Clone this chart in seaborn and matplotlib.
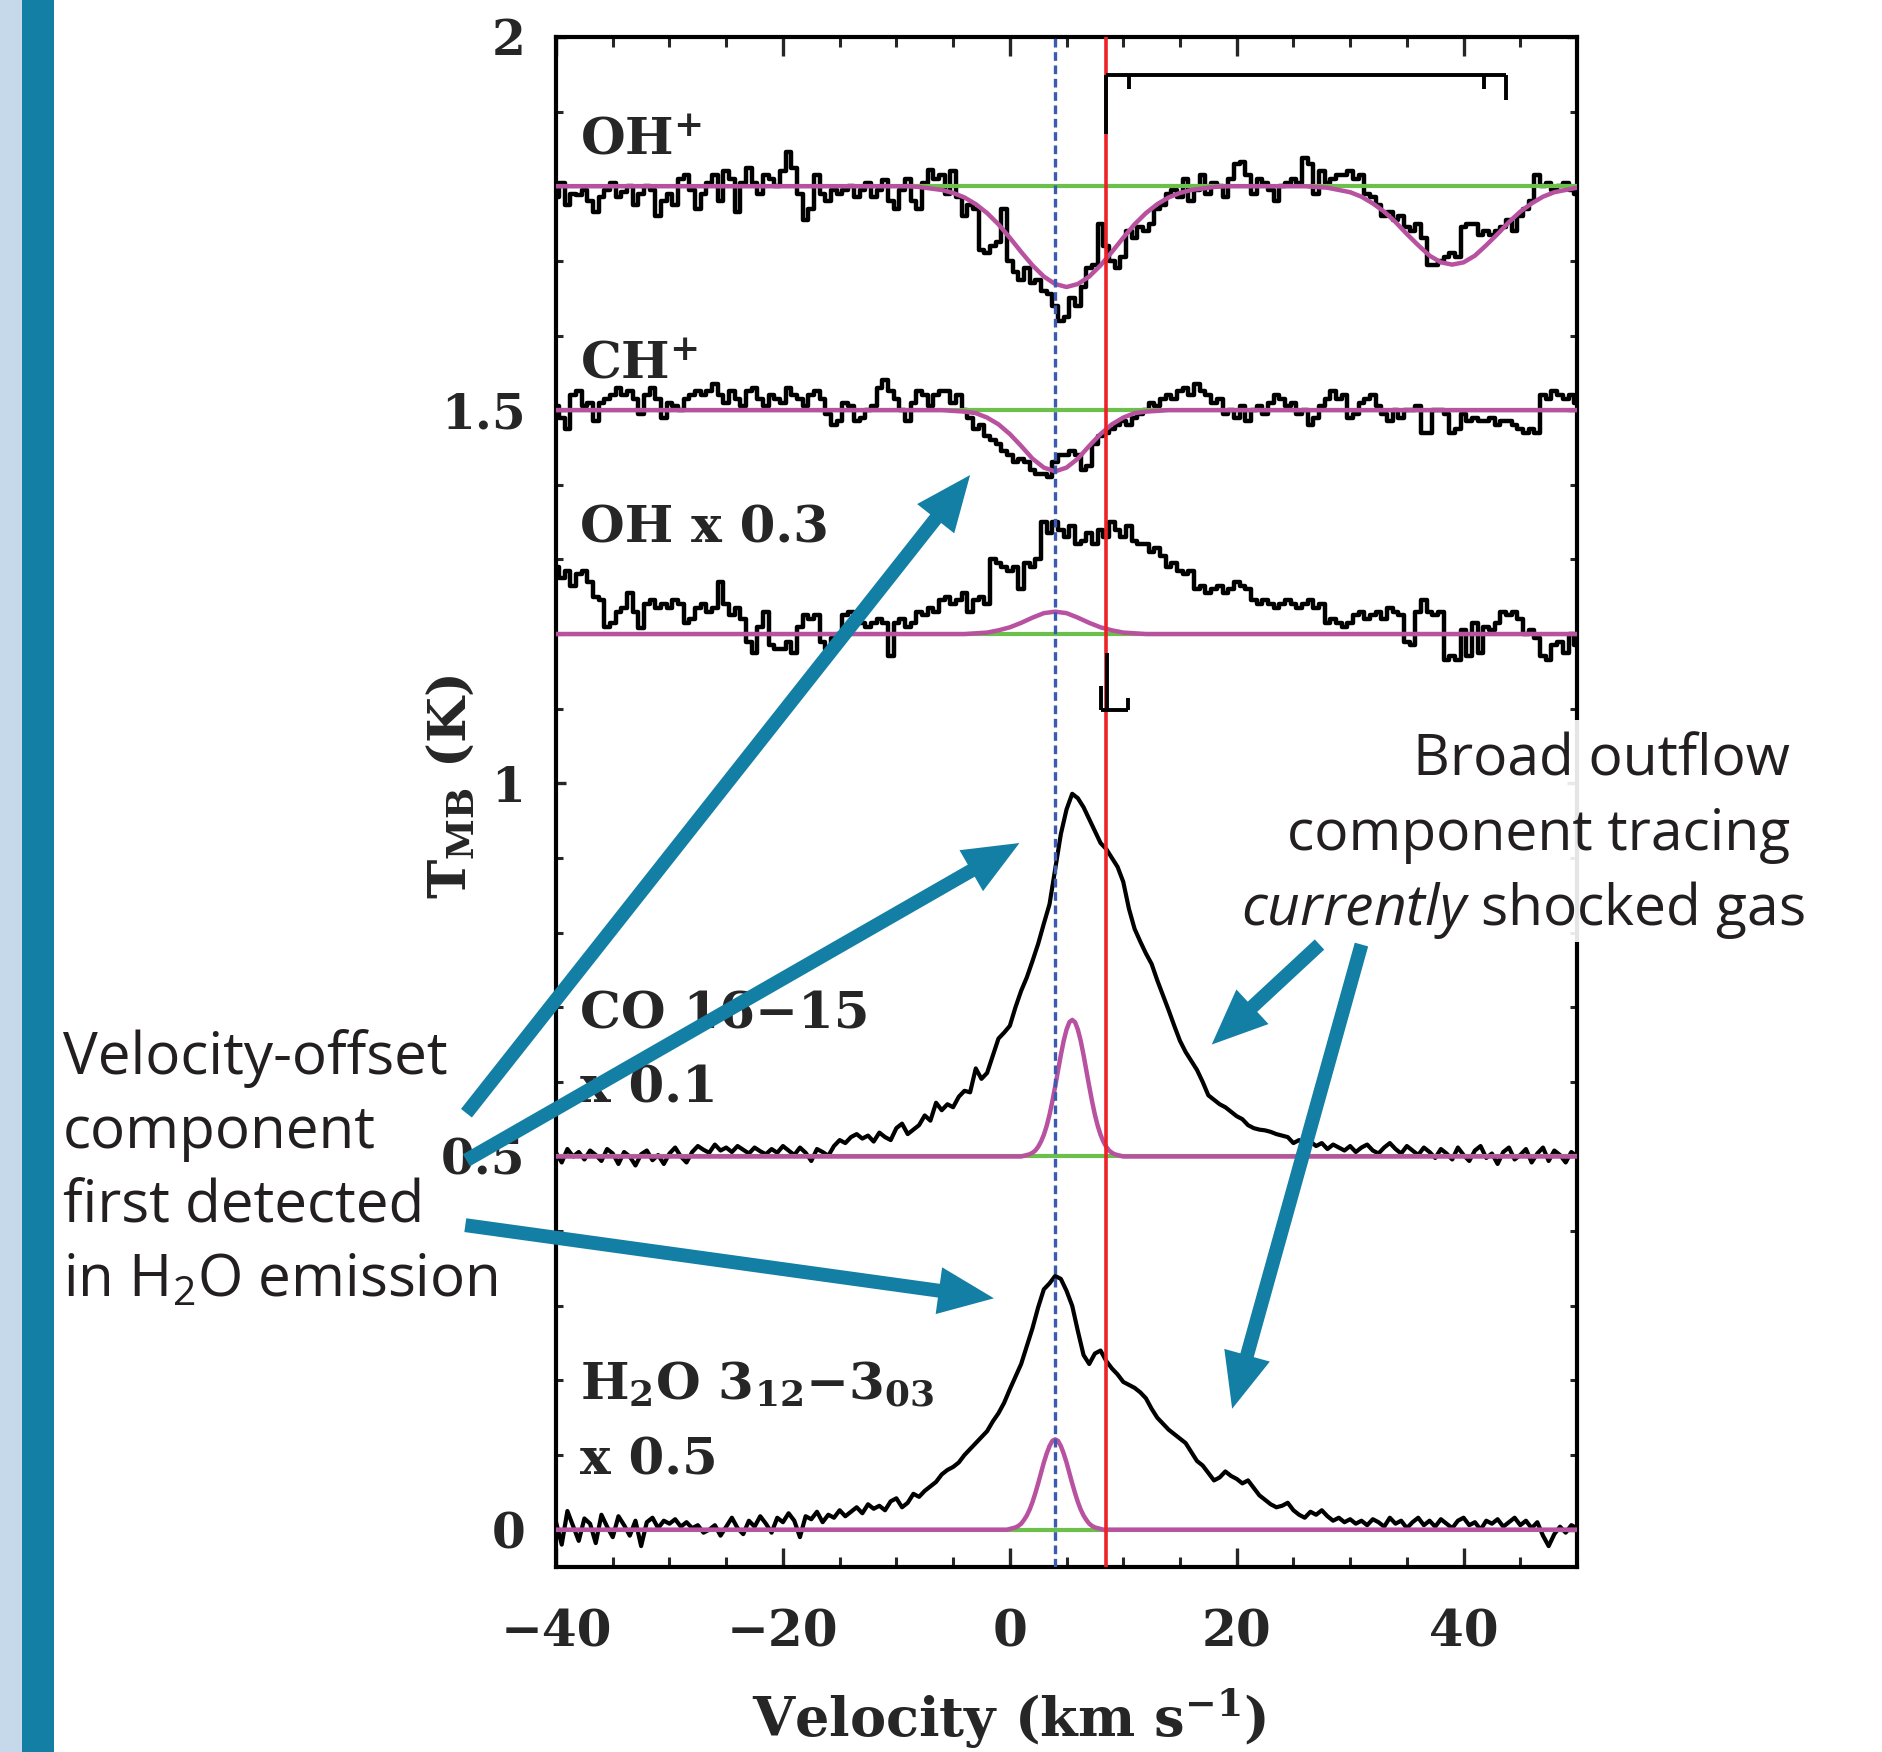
import numpy as np
import matplotlib
matplotlib.use("Agg")
import matplotlib.pyplot as plt
from matplotlib.patches import Rectangle
import seaborn as sns

# ==============================
# DATA  (spectra in mK above/below their own baseline)
# ==============================

# 0.5 km/s channels from -40 to 50 km/s
vel = np.arange(-40, 50.25, 0.5)

# OH+ (baseline 1.8 K)
ohp_mk = [
    -15, 5, -25, -10, -12, -5, -20, -35, -15, -5, 5, -15, -8, 0, -25, -10, 0, -5, -40, -20,
    -10, -25, 10, 15, -5, -30, -10, 5, 15, -20, 20, 10, -35, 5, 25, 5, -10, 15, 10, 0,
    20, 46, 25, -10, -45, -30, 15, -10, -20, -5, -10, -5, 0, -15, -5, 5, -15, -5, 8, -20,
    -30, -5, 10, -20, -30, 5, 22, 10, 15, -10, 20, -15, -40, -25, -30, -85, -90, -80, -75, -30,
    -100, -115, -125, -110, -130, -125, -140, -145, -160, -180, -175, -150, -160, -135, -110, -105, -50, -80, -100, -110,
    -95, -60, -70, -55, -60, -50, -30, -25, -10, -5, -15, 10, -20, -5, 15, -10, 5, 0, -15, 10,
    30, 33, 15, -10, 10, 5, -5, -20, 0, 5, 10, 5, 38, 30, -10, 20, 5, 10, 15, 15,
    20, 10, 15, -10, -15, -25, -40, -35, -45, -40, -55, -60, -50, -70, -105, -105, -100, -95, -90, -95,
    -55, -50, -50, -65, -60, -65, -60, -55, -45, -60, -40, -30, -20, 15, 0, 5, -5, 0, 5, -5,
    -10,
]

# CH+ (baseline 1.5 K)
chp_mk = [
    5, -10, -25, 20, 25, 5, 10, -15, 10, 15, 20, 30, 20, 25, 15, -5, 20, 30, 15, -10,
    10, 5, 0, 15, 20, 25, 20, 25, 35, 20, 10, 25, 15, 5, 25, 30, 15, 5, 20, 15,
    10, 30, 20, 15, 5, 20, 25, 15, -5, -20, -15, 10, 5, -15, -10, 0, 5, 30, 40, 25,
    15, 0, -15, 10, 25, 20, 5, 20, 25, 25, 10, 20, 0, -10, -25, -20, -35, -40, -45, -55,
    -60, -70, -65, -70, -80, -85, -85, -90, -70, -60, -60, -55, -60, -80, -75, -45, -35, -30, -25, -20,
    -15, -20, -10, -5, 0, 10, 5, 15, 20, 15, 25, 30, 20, 35, 25, 20, 10, 15, -5, 0,
    -10, 5, -15, 0, 5, -5, 10, 20, 15, 5, 10, -5, 0, -20, -10, 5, 15, 25, 15, 20,
    -10, -5, 10, 15, 20, 5, -5, -15, 0, -10, 0, 0, 5, -30, -30, 0, 0, -5, -30, -25,
    -5, -15, -10, -15, -15, -10, -20, -15, -15, -20, -25, -30, -25, -30, 20, 15, 25, 20, 15, 20,
    10,
]

# OH x 0.3 (baseline 1.2 K)
oh_mk = [
    90, 75, 85, 65, 80, 85, 70, 50, 45, 10, 15, 30, 35, 55, 30, 8, 40, 45, 35, 40,
    35, 45, 40, 15, 20, 35, 40, 30, 35, 70, 40, 25, 35, 20, -10, -25, 10, 30, -15, -20,
    -20, -10, -25, 10, 25, 20, 25, -10, -20, -5, 0, 25, 30, 20, 15, 10, 15, 20, 15, -30,
    15, 20, 10, 15, 30, 25, 35, 30, 45, 50, 40, 45, 55, 30, 45, 50, 40, 100, 95, 90,
    85, 90, 60, 95, 90, 100, 150, 135, 150, 140, 130, 145, 120, 125, 135, 120, 140, 130, 150, 140,
    130, 145, 125, 120, 120, 110, 115, 105, 90, 95, 85, 80, 85, 60, 65, 55, 60, 65, 55, 60,
    70, 65, 60, 45, 40, 45, 40, 35, 40, 45, 40, 35, 40, 45, 35, 40, 15, 20, 15, 10,
    15, 25, 30, 20, 25, 30, 20, 35, 30, 25, -10, -15, 30, 45, 30, 25, 30, -35, -30, -35,
    5, -30, 15, -25, 10, 5, 15, 30, 25, 30, 20, 0, 5, -5, -30, -35, -15, -10, -25, 0,
    -15,
]

# CO 16-15 x 0.1 (baseline 0.5 K)
co_mk = [
    5, -8, 10, 0, 6, -4, 8, 2, -6, 10, 4, -10, 6, 0, -12, 3, 8, -5, 2, -10,
    4, 12, 0, -8, 6, 14, 9, 5, 16, 8, 12, 6, 14, 9, 4, 12, 7, 3, 10, 5,
    14, 8, 2, 12, 5, -6, 10, 6, 1, 14, 22, 18, 26, 30, 24, 28, 20, 32, 26, 22,
    38, 44, 30, 36, 42, 55, 48, 72, 62, 70, 66, 80, 88, 86, 118, 104, 112, 135, 158, 166,
    175, 200, 222, 240, 262, 285, 312, 338, 385, 432, 465, 486, 480, 468, 452, 436, 420, 412, 400, 388,
    368, 332, 305, 288, 272, 258, 236, 216, 196, 175, 155, 140, 128, 116, 100, 82, 76, 70, 66, 60,
    54, 50, 42, 38, 36, 35, 33, 30, 28, 26, 18, 22, 16, 20, 14, 18, 10, 16, 12, 8,
    14, 6, 12, 16, 8, 4, 12, 18, 10, 4, 14, 8, 2, 12, 6, -2, 10, 4, -4, 12,
    2, -6, 8, 14, -2, 4, -10, 6, 12, -4, 2, 10, -8, 4, 12, -6, 8, 2, -8, 6,
    0,
]

# H2O 3_12-3_03 x 0.5 (baseline 0 K)
h2o_mk = [
    10, -20, 25, 5, -15, 15, 8, -18, 20, 4, -10, 18, 6, -8, 12, -22, 10, 16, 2, 12,
    8, 14, 4, 10, 2, 6, -4, 0, 6, -8, 4, 16, 2, -6, 12, 4, 18, 8, -4, 16,
    10, 22, 12, -10, 18, 14, 24, 10, 20, 16, 26, 18, 24, 30, 22, 34, 28, 32, 26, 38,
    42, 30, 36, 48, 44, 52, 58, 64, 74, 80, 84, 90, 100, 108, 116, 124, 132, 145, 156, 170,
    188, 205, 222, 246, 270, 298, 322, 330, 340, 336, 320, 300, 266, 234, 222, 236, 240, 226, 216, 208,
    198, 194, 190, 184, 176, 162, 150, 142, 134, 128, 122, 116, 104, 92, 86, 76, 66, 70, 78, 72,
    68, 62, 66, 56, 46, 40, 34, 30, 32, 36, 26, 20, 16, 24, 20, 26, 18, 12, 16, 10,
    14, 8, 12, 6, 14, 10, 4, 16, 8, 12, 2, 10, 16, 6, 12, 4, 14, 8, 2, 12,
    16, 6, 10, 0, 12, 8, 14, 4, 10, 16, 6, 12, 2, 10, -8, -22, -6, 4, -4, 6,
    2,
]

# gaussian fit components (magenta), mK
ohp_fit_v = [-40] + list(range(-9, 20)) + list(range(26, 51))
ohp_fit_mk = [0,
              0, -1, -3, -5, -9, -15, -24, -36, -51, -69, -88, -106, -121, -131, -135,
              -131, -121, -106, -88, -69, -51, -36, -24, -15, -9, -5, -3, -1, 0,
              0, -1, -2, -5, -8, -14, -23, -34, -48, -64, -79, -93, -102, -105,
              -102, -93, -79, -64, -48, -34, -23, -14, -8, -5, -2]

chp_fit_v = [-40] + list(range(-6, 15)) + [50]
chp_fit_mk = [0, 0, -1, -2, -4, -10, -19, -32, -48, -65, -77, -82,
              -77, -65, -48, -32, -19, -10, -4, -2, -1, 0, 0]

oh_fit_v = [-40] + list(range(-4, 13)) + [50]
oh_fit_mk = [0, 0, 1, 2, 5, 9, 15, 22, 28, 30, 28, 22, 15, 9, 5, 2, 1, 0, 0]

co_fit_v = [-40, 1.0] + list(np.arange(1.25, 9.8, 0.25)) + [10.0, 50]
co_fit_mk = [0, 0, 1, 2, 3, 5, 8, 13, 20, 29, 41, 56, 74, 94, 115, 136, 155, 170, 180, 183,
             180, 170, 155, 136, 115, 94, 74, 56, 41, 29, 20, 13, 8, 5, 3, 2, 1, 0, 0]

h2o_fit_v = [-40, -0.25] + list(np.arange(0, 8.1, 0.25)) + [8.25, 50]
h2o_fit_mk = [0, 0, 1, 2, 3, 5, 8, 13, 19, 27, 37, 49, 62, 76, 90, 102, 112, 119, 121,
              119, 112, 102, 90, 76, 62, 49, 37, 27, 19, 13, 8, 5, 3, 2, 1, 0, 0]

baselines = {"ohp": 1.8, "chp": 1.5, "oh": 1.2, "co": 0.5, "h2o": 0.0}

v_offset_comp = 4.0   # blue dashed line
v_source = 8.5        # red line

# hyperfine structure markers
ohp_hfs_v = [8.5, 10.5, 41.8, 43.7]
ohp_hfs_end = [1.870, 1.930, 1.930, 1.915]
ohp_hfs_bar = 1.949
oh_hfs_v = [8.0, 8.6, 10.4]
oh_hfs_end = [1.130, 1.174, 1.114]
oh_hfs_bar = 1.098

# ==============================
# STYLE
# ==============================

sns.set_theme(style="ticks")
plt.rcParams["font.family"] = ["DejaVu Serif"]
plt.rcParams["mathtext.fontset"] = "custom"
plt.rcParams["mathtext.rm"] = "Open Sans"
plt.rcParams["mathtext.it"] = "Open Sans:italic"

black = "#000000"
green = "#6cbf4b"
magenta = "#b8519f"
red = "#ec2227"
blue = "#3a5bb0"
teal = "#137fa5"
note = "#231f20"

fig = plt.figure(figsize=(18.83, 17.52), dpi=100)
ax = fig.add_axes([0.2953, 0.1056, 0.5422, 0.8733])

# decorative side strip
fig.add_artist(Rectangle((0, 0), 0.0117, 1, transform=fig.transFigure,
                         facecolor="#c6d9ea", edgecolor="none"))
fig.add_artist(Rectangle((0.0117, 0), 0.0170, 1, transform=fig.transFigure,
                         facecolor=teal, edgecolor="none"))

# ==============================
# SPECTRA
# ==============================

step_spectra = [("ohp", ohp_mk), ("chp", chp_mk), ("oh", oh_mk)]
for key, mk in step_spectra:
    sns.lineplot(x=vel, y=baselines[key] + np.array(mk) / 1000.0,
                 drawstyle="steps-mid", color=black, lw=3.2, ax=ax, zorder=3)

for key, mk in [("co", co_mk), ("h2o", h2o_mk)]:
    sns.lineplot(x=vel, y=baselines[key] + np.array(mk) / 1000.0,
                 color=black, lw=3.0, ax=ax, zorder=3)

for b in baselines.values():
    ax.axhline(b, color=green, lw=3.0, zorder=3.5)

fits = [("ohp", ohp_fit_v, ohp_fit_mk), ("chp", chp_fit_v, chp_fit_mk),
        ("oh", oh_fit_v, oh_fit_mk), ("co", co_fit_v, co_fit_mk),
        ("h2o", h2o_fit_v, h2o_fit_mk)]
for key, fv, fmk in fits:
    sns.lineplot(x=np.array(fv, dtype=float), y=baselines[key] + np.array(fmk) / 1000.0,
                 color=magenta, lw=3.2, ax=ax, zorder=4)

ax.axvline(v_offset_comp, color=blue, lw=2.4, ls=(0, (2.6, 1.4)), zorder=5)
ax.axvline(v_source, color=red, lw=2.6, zorder=5)

# hfs brackets
ax.hlines(ohp_hfs_bar, min(ohp_hfs_v), max(ohp_hfs_v), color=black, lw=2.8, zorder=6)
ax.vlines(ohp_hfs_v, ohp_hfs_end, ohp_hfs_bar, color=black, lw=2.8, zorder=6)
ax.hlines(oh_hfs_bar, min(oh_hfs_v), max(oh_hfs_v), color=black, lw=2.8, zorder=6)
ax.vlines(oh_hfs_v, oh_hfs_end, oh_hfs_bar, color=black, lw=2.8, zorder=6)

# ==============================
# AXES
# ==============================

ax.set_xlim(-40, 50)
ax.set_ylim(-0.05, 2)
ax.set_xticks([-40, -20, 0, 20, 40])
ax.set_xticks(np.arange(-40, 51, 5), minor=True)
ax.set_yticks([0, 0.5, 1, 1.5, 2])
ax.set_yticklabels(["0", "0.5", "1", "1.5", "2"])
ax.set_yticks(np.arange(0, 2.01, 0.1), minor=True)
ax.set_xlabel("")
ax.set_ylabel("")

ax.tick_params(axis="x", which="major", direction="in", length=14, width=2.4,
               top=True, bottom=True, pad=30, labelsize=36)
ax.tick_params(axis="x", which="minor", direction="in", length=7, width=2.2,
               top=True, bottom=True)
ax.tick_params(axis="y", which="major", direction="in", length=7, width=2.4,
               left=True, right=True, pad=22, labelsize=35)
ax.tick_params(axis="y", which="minor", direction="in", length=5, width=2.2,
               left=True, right=True)
for lbl in ax.get_xticklabels() + ax.get_yticklabels():
    lbl.set_fontweight("bold")
for s in ax.spines.values():
    s.set_linewidth(3.0)
    s.set_color(black)

fig.text(0.5358, 0.0085, "Velocity (km s$^{\\mathbf{-1}}$)", ha="center", va="baseline",
         fontsize=39, fontweight="bold", math_fontfamily="dejavuserif")
fig.text(0.2395, 0.5508, "T$_{\\mathbf{MB}}$ (K)", ha="center", va="center", rotation=90,
         fontsize=38, fontweight="bold", math_fontfamily="dejavuserif")

# spectrum labels
species = [
    (1.842, "OH$^{\\mathbf{+}}$"),
    (1.543, "CH$^{\\mathbf{+}}$"),
    (1.323, "OH x 0.3"),
    (0.672, "CO 16\u221215"),
    (0.572, "x 0.1"),
    (0.174, "H$_{\\mathbf{2}}$O 3$_{\\mathbf{12}}$\u22123$_{\\mathbf{03}}$"),
    (0.074, "x 0.5"),
]
for yy, txt in species:
    ax.text(-37.9, yy, txt, ha="left", va="baseline", fontsize=37,
            fontweight="bold", math_fontfamily="dejavuserif", zorder=6)

# ==============================
# ANNOTATIONS
# ==============================

ax.add_patch(Rectangle((19.7, 0.788), 51.3, 0.297, facecolor="white",
                       edgecolor="none", alpha=0.9, zorder=2.6, clip_on=False))

left_lines = [(0.611, "Velocity-offset"), (0.511, "component"),
              (0.412, "first detected"), (0.312, "in H$_2$O emission")]
for yy, txt in left_lines:
    ax.text(-83.5, yy, txt, ha="left", va="baseline", fontsize=42,
            family="Open Sans", color=note, zorder=7)

right_lines = [(68.8, 1.010, "Broad outflow"), (68.8, 0.910, "component tracing"),
               (70.1, 0.810, "$\\it{currently}$ shocked gas")]
for xx, yy, txt in right_lines:
    ax.text(xx, yy, txt, ha="right", va="baseline", fontsize=41,
            family="Open Sans", color=note, zorder=7)

arrows = [
    ((-47.9, 0.558), (-3.5, 1.413)),
    ((-47.9, 0.495), (0.85, 0.920)),
    ((-48.0, 0.408), (-1.4, 0.310)),
    ((27.3, 0.784), (17.8, 0.650)),
    ((31.0, 0.784), (19.6, 0.162)),
]
for tail, head in arrows:
    ax.annotate("", xy=head, xytext=tail, xycoords="data", textcoords="data",
                annotation_clip=False, zorder=8,
                arrowprops=dict(arrowstyle="simple,head_length=4,head_width=3.4,tail_width=1",
                                mutation_scale=10, fc=teal, ec="none",
                                shrinkA=0, shrinkB=0))

fig.savefig("out.png", dpi=100)
